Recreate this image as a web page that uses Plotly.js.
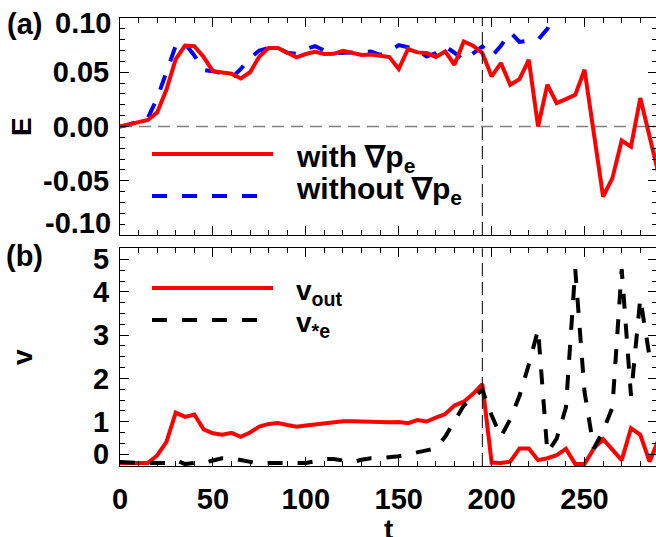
<!DOCTYPE html>
<html><head><meta charset="utf-8">
<script src="https://cdn.plot.ly/plotly-3.0.1.min.js"></script>
<style>html,body{margin:0;padding:0;overflow:hidden;background:#fff}</style>
</head><body><div id="chart" style="width:657px;height:537px"></div>
<script>
// time samples
const t = [0,5,10,15,20,25,30,35,40,45,
           50,55,60,65,70,75,80,85,90,95,
           100,105,110,115,120,125,130,135,140,145,
           150,155,160,165,170,175,180,185,190,195,
           200,205,210,215,220,225,230,235,240,245,
           250,255,260,265,270,275,280,285,290];
// (a) E with grad pe
const E_with = [0.000,0.002,0.004,0.006,0.013,0.034,0.062,0.0745,0.074,0.064,
                0.051,0.050,0.0486,0.0443,0.050,0.0646,0.0723,0.0723,0.0677,0.0637,
                0.0668,0.0689,0.0668,0.067,0.0698,0.0683,0.0659,0.0664,0.0652,0.064,
                0.053,0.0714,0.0683,0.0677,0.064,0.0692,0.0569,0.0784,0.0744,0.0677,
                0.0461,0.0585,0.0385,0.0437,0.0615,0.000,0.0385,0.0216,0.0253,0.0292,
                0.0523,-0.0058,-0.0646,-0.0476,-0.0129,-0.0185,0.0262,-0.0092,-0.045];
// (a) E without grad pe
const t_without = [0,5,10,15,20,25,30,35,40,45,
                   50,55,60,65,70,75,80,85,90,95,
                   100,105,110,115,120,125,130,135,140,145,
                   150,155,160,165,170,175,180,185,190,195,
                   200,205,210,215,220,225,230,235,240];
const E_without = [0,0.002,0.005,0.008,0.026,0.05,0.0745,0.0763,0.0655,0.052,
                   0.051,0.049,0.0446,0.053,0.063,0.070,0.0725,0.0723,0.068,0.067,
                   0.0714,0.074,0.070,0.0677,0.0677,0.068,0.0685,0.069,0.066,0.069,
                   0.075,0.073,0.0705,0.0646,0.0677,0.0738,0.068,0.061,0.067,0.0738,
                   0.0646,0.0744,0.087,0.078,0.079,0.080,0.090,0.106,0.125];
// (b) velocities (axis units)
const v_out = [-0.22,-0.22,-0.22,-0.22,-0.03,0.32,1.07,0.96,1.02,0.64,
               0.54,0.50,0.55,0.45,0.56,0.71,0.78,0.80,0.75,0.71,
               0.74,0.77,0.80,0.83,0.85,0.85,0.84,0.84,0.84,0.82,
               0.83,0.80,0.88,0.84,0.94,1.03,1.25,1.35,1.55,1.80,
               -0.21,-0.22,-0.19,0.15,0.15,-0.15,-0.10,-0.02,0.14,-0.25,
               -0.25,0.15,0.39,0.11,-0.15,0.67,0.50,-0.19,0.40];
const v_star_e = [-0.2,-0.22,-0.22,-0.22,-0.22,-0.22,-0.15,-0.25,-0.22,-0.22,
                  -0.16,-0.1,-0.1,-0.15,-0.2,-0.24,-0.22,-0.22,-0.22,-0.22,
                  -0.22,-0.18,-0.12,-0.12,-0.16,-0.2,-0.14,-0.1,-0.1,-0.08,
                  -0.05,0.0,0.04,0.1,0.15,0.45,0.85,1.25,1.45,1.65,
                  1.0,0.45,0.9,1.5,2.3,3.2,0.05,0.4,1.2,4.75,
                  1.6,0.15,0.6,1.2,4.75,1.5,4.0,2.5,2.45];
const v_tick_vals = [0, 0.833, 1.944, 3.056, 4.167, 5];
const v_tick_text = ['0','1','2','3','4','5'];
const E_tick_vals = [-0.05,0.00,0.05];
const E_tick_text = ['-0.05','0.00','0.05'];
const E_end_text = ['0.10','-0.10'];
const t_ref = 195;

const FONT = 'Liberation Sans, Arial, Helvetica, sans-serif';
const tickfont = {family: FONT, size: 29, color: '#000', weight: 'bold'};
const W = 4;

const traces = [
  {x: t_without, y: E_without, xaxis: 'x', yaxis: 'y', mode: 'lines',
   line: {color: '#0000ff', width: W, dash: '15px,15px'}},
  {x: t, y: E_with, xaxis: 'x', yaxis: 'y', mode: 'lines',
   line: {color: '#ff0000', width: W}},
  {x: t, y: v_out, xaxis: 'x2', yaxis: 'y2', mode: 'lines',
   line: {color: '#ff0000', width: W}},
  {x: t, y: v_star_e, xaxis: 'x2', yaxis: 'y2', mode: 'lines',
   line: {color: '#000000', width: W, dash: '15px,15px'}}
];

const axBase = {
  showline: true, linecolor: '#000', linewidth: 1, mirror: 'allticks',
  ticks: 'inside', ticklen: 9, tickwidth: 1, tickcolor: '#000',
  showgrid: false, zeroline: false, tickfont: tickfont
};
const px = v => (v - 120) / 537;
const py = v => (466 - v) / 448;
const f = (s) => ({family: FONT, size: s, color: '#000', weight: 'bold'});
const ann = (text, x, y, size, extra) => Object.assign({
  text: text, xref: 'paper', yref: 'paper', x: px(x), y: py(y),
  xanchor: 'left', yanchor: 'middle', showarrow: false, font: f(size)}, extra || {});

const layout = {
  width: 657, height: 537,
  margin: {l: 120, r: 0, t: 18, b: 71},
  paper_bgcolor: '#fff', plot_bgcolor: '#fff',
  showlegend: false,
  xaxis: Object.assign({}, axBase, {anchor: 'y', domain: [0, 1], range: [0, 289],
    tick0: 0, dtick: 50, showticklabels: false,
    minor: {dtick: 10, ticks: 'inside', ticklen: 5, tickcolor: '#000', showgrid: false}}),
  yaxis: Object.assign({}, axBase, {anchor: 'x', domain: [py(235), 1], range: [-0.1, 0.1],
    tickmode: 'array', tickvals: E_tick_vals, ticktext: E_tick_text, ticklabelstandoff: 4,
    minor: {tick0: 0, dtick: 0.01, ticks: 'inside', ticklen: 5, tickcolor: '#000', showgrid: false}}),
  xaxis2: Object.assign({}, axBase, {anchor: 'y2', domain: [0, 1], range: [0, 289],
    tick0: 0, dtick: 50, ticklabelstandoff: 7,
    minor: {dtick: 10, ticks: 'inside', ticklen: 5, tickcolor: '#000', showgrid: false}}),
  yaxis2: Object.assign({}, axBase, {anchor: 'x2', domain: [0, py(248.3)], range: [-0.300, 5.283],
    tickmode: 'array', tickvals: v_tick_vals, ticktext: v_tick_text, ticklabelstandoff: 4,
    minor: {tick0: 0, dtick: 5/18, ticks: 'inside', ticklen: 5, tickcolor: '#000', showgrid: false}}),
  shapes: [
    {type: 'line', layer: 'below', xref: 'x domain', yref: 'y', x0: 0, x1: 1, y0: 0, y1: 0,
     line: {color: '#808080', width: 1.5, dash: '12px,7px'}},
    {type: 'line', xref: 'x', yref: 'y domain', x0: t_ref, x1: t_ref, y0: 0, y1: 1,
     line: {color: '#000', width: 1, dash: '13px,6px'}},
    {type: 'line', xref: 'x2', yref: 'y2 domain', x0: t_ref, x1: t_ref, y0: 0, y1: 1,
     line: {color: '#000', width: 1, dash: '13px,6px'}},
    // legend samples
    {type: 'line', xref: 'paper', yref: 'paper', x0: px(152), x1: px(273), y0: py(154), y1: py(154),
     line: {color: '#ff0000', width: W}},
    {type: 'line', xref: 'paper', yref: 'paper', x0: px(152), x1: px(257), y0: py(196), y1: py(196),
     line: {color: '#0000ff', width: W, dash: '15px,15px'}},
    {type: 'line', xref: 'paper', yref: 'paper', x0: px(152), x1: px(273), y0: py(288), y1: py(288),
     line: {color: '#ff0000', width: W}},
    {type: 'line', xref: 'paper', yref: 'paper', x0: px(152), x1: px(257), y0: py(320), y1: py(320),
     line: {color: '#000', width: W, dash: '15px,15px'}}
  ],
  annotations: [
    ann('<b>with ∇p<sub>e</sub></b>', 294, 158, 30),
    ann('<b>without ∇p<sub>e</sub></b>', 294, 190, 30),
    ann('<b>v<sub>out</sub></b>', 294, 292, 28),
    ann('<b>v<sub>*e</sub></b>', 294, 324, 28),
    ann('<b>' + E_end_text[0] + '</b>', 113, 23, 29, {xanchor: 'right'}),
    ann('<b>' + E_end_text[1] + '</b>', 113, 223, 29, {xanchor: 'right'}),
    ann('<b>(a)</b>', 24, 24, 29, {xanchor: 'center'}),
    ann('<b>(b)</b>', 24, 256, 29, {xanchor: 'center'}),
    ann('<b>E</b>', 22, 127, 28, {xanchor: 'center', textangle: -90}),
    ann('<b>v</b>', 22, 357, 28, {xanchor: 'center', textangle: -90}),
    ann('<b>t</b>', 388, 529, 28, {xanchor: 'center'})
  ]
};

Plotly.newPlot('chart', traces, layout, {staticPlot: true, displayModeBar: false});
</script>
</body></html>
